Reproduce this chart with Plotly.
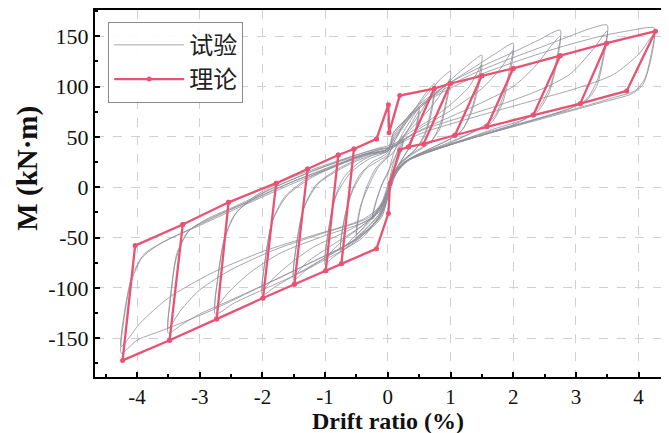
import plotly.graph_objects as go

# ---------------- Theory (理论) polyline vertices ----------------
theory_drift = [-0.18, 0.01, 0.02, 0.19, 0.74, 1.0, 1.5, 2.0, 2.75, 3.49, 4.27,
                3.81, 3.07, 2.32, 1.58, 1.07, 0.57, 0.33, 0.19, 0.035, 0.01,
                -0.18, -0.74, -0.99, -1.49, -1.99, -2.73, -3.48, -4.23,
                -4.03, -3.27, -2.54, -1.78, -1.28, -0.79, -0.54, -0.18,
                None, 3.49, 3.07, None, 2.75, 2.32, None, 2.0, 1.58, None, 1.5, 1.07,
                None, 1.0, 0.57, None, 0.74, 0.33,
                None, -3.27, -3.48, None, -2.54, -2.73, None, -1.78, -1.99,
                None, -1.28, -1.49, None, -0.79, -0.99, None, -0.54, -0.74]
theory_moment = [48, 82, 54, 91, 98, 103, 110.6, 118, 130.6, 143, 155,
                 95.6, 83, 71.6, 60, 51.6, 43, 40, 37, 4, -26,
                 -61, -76, -83, -96.5, -110, -131, -152, -172,
                 -58, -37, -15, 4, 18, 32, 38, 48,
                 None, 143, 83, None, 130.6, 71.6, None, 118, 60, None, 110.6, 51.6,
                 None, 103, 43, None, 98, 40,
                 None, -37, -152, None, -15, -131, None, 4, -110,
                 None, 18, -96.5, None, 32, -83, None, 38, -76]

# ---------------- Test (试验) hysteresis, per amplitude level ----------------
d_025 = [0, 0.08, 0.18, 0.25, 0.2, 0.1, 0.0, -0.1, -0.2, -0.25, -0.2, -0.1, 0.0,
         0.1, 0.2, 0.25, 0.18, 0.05, -0.1, -0.25, -0.18, -0.05, 0.0]
m_025 = [0, 22, 40, 48, 35, 20, 2, -16, -28, -32, -18, 2, 15,
         28, 40, 46, 30, 8, -18, -31, -12, 8, 12]

d_050 = [0.0, 0.1, 0.25, 0.4, 0.5, 0.45, 0.35, 0.2, 0.08, 0.0, -0.12, -0.3, -0.45, -0.5,
         -0.45, -0.35, -0.2, -0.05,
         0.05, 0.2, 0.35, 0.5, 0.44, 0.3, 0.15, 0.03, -0.1, -0.3, -0.5, -0.44, -0.3, -0.15, 0.0]
m_050 = [12, 35, 55, 70, 80, 60, 40, 25, 10, -8, -25, -38, -47, -50,
         -25, -2, 18, 28,
         32, 45, 60, 76, 55, 35, 20, 3, -18, -33, -47, -20, 2, 20, 30]

d_075 = [0.1, 0.3, 0.5, 0.65, 0.75, 0.7, 0.6, 0.45, 0.25, 0.1, 0.0, -0.15, -0.4, -0.6, -0.75,
         -0.7, -0.6, -0.45, -0.25, -0.05,
         0.1, 0.3, 0.5, 0.65, 0.75, 0.69, 0.58, 0.4, 0.2, 0.05, -0.08, -0.3, -0.55, -0.75,
         -0.69, -0.55, -0.35, -0.1, 0.0]
m_075 = [45, 65, 84, 97, 103, 80, 55, 38, 27, 15, -5, -28, -45, -56, -64,
         -35, -8, 12, 25, 32,
         40, 55, 72, 88, 98, 72, 50, 35, 24, 8, -15, -35, -50, -62,
         -30, -2, 18, 28, 32]

d_100 = [0.1, 0.3, 0.6, 0.85, 1.0, 0.95, 0.85, 0.7, 0.45, 0.2, 0.05, -0.1, -0.4, -0.7, -0.9, -1.0,
         -0.95, -0.85, -0.7, -0.45, -0.2, 0.0,
         0.1, 0.4, 0.7, 0.9, 1.0, 0.94, 0.83, 0.65, 0.4, 0.15, 0.03, -0.1, -0.4, -0.7, -0.9, -1.0,
         -0.94, -0.82, -0.6, -0.3, 0.0]
m_100 = [45, 68, 90, 108, 115, 92, 65, 46, 36, 24, 5, -25, -48, -62, -71, -77,
         -45, -12, 10, 25, 33, 38,
         42, 60, 80, 98, 108, 85, 58, 43, 33, 20, 2, -20, -38, -52, -64, -73,
         -40, -8, 14, 28, 36]

d_150 = [0.1, 0.4, 0.8, 1.1, 1.35, 1.5, 1.45, 1.35, 1.2, 1.0, 0.6, 0.3, 0.1, 0.0, -0.2, -0.6,
         -1.0, -1.3, -1.5, -1.45, -1.35, -1.15, -0.8, -0.4, -0.1,
         0.05, 0.3, 0.7, 1.0, 1.3, 1.5, 1.44, 1.32, 1.15, 0.8, 0.4, 0.15, 0.02, -0.15, -0.5,
         -0.9, -1.3, -1.5, -1.44, -1.32, -1.1, -0.7, -0.3, 0.0]
m_150 = [48, 72, 95, 112, 125, 131, 108, 80, 58, 48, 36, 26, 12, -10, -35, -55,
         -70, -82, -92, -55, -22, 2, 18, 30, 36,
         38, 52, 68, 82, 100, 122, 98, 72, 54, 42, 30, 18, -2, -25, -42,
         -58, -75, -88, -50, -18, 4, 20, 31, 36]

d_200 = [0.1, 0.5, 1.0, 1.4, 1.75, 2.0, 1.95, 1.85, 1.7, 1.45, 1.0, 0.5, 0.2, 0.05, -0.15, -0.6,
         -1.0, -1.5, -1.8, -2.0, -1.95, -1.85, -1.65, -1.3, -0.8, -0.4, -0.1,
         0.1, 0.5, 1.0, 1.5, 1.8, 2.0, 1.94, 1.82, 1.65, 1.3, 0.8, 0.4, 0.15, 0.02, -0.15, -0.6,
         -1.2, -1.6, -1.85, -2.0, -1.94, -1.83, -1.6, -1.2, -0.7, -0.3, 0.0]
m_200 = [50, 80, 104, 120, 134, 143, 120, 92, 70, 58, 44, 33, 22, 0, -32, -55,
         -70, -88, -99, -107, -70, -35, -10, 8, 22, 32, 38,
         40, 58, 76, 98, 118, 136, 110, 82, 64, 53, 40, 30, 18, -3, -25, -42,
         -60, -78, -92, -103, -65, -32, -8, 10, 24, 33, 36]

d_275 = [0.1, 0.5, 1.0, 1.5, 2.0, 2.4, 2.75, 2.7, 2.6, 2.42, 2.2, 1.7, 1.2, 0.7, 0.3, 0.08,
         -0.05, -0.4, -1.0, -1.5, -2.0, -2.45, -2.75, -2.71, -2.62, -2.45, -2.1, -1.6, -1.0,
         -0.5, -0.15,
         0.05, 0.5, 1.0, 1.5, 2.0, 2.35, 2.6, 2.75, 2.69, 2.58, 2.4, 2.0, 1.4, 0.8, 0.35, 0.1,
         -0.03, -0.3, -1.0, -1.7, -2.2, -2.55, -2.75, -2.7, -2.6, -2.4, -2.0, -1.4, -0.8, -0.3, 0.0]
m_275 = [52, 82, 104, 120, 134, 146, 156, 130, 102, 80, 68, 58, 47, 36, 26, 8,
         -20, -50, -72, -88, -102, -115, -126, -90, -55, -28, -8, 8, 22,
         32, 38,
         40, 56, 70, 84, 100, 120, 140, 150, 122, 95, 76, 62, 50, 38, 27, 12,
         -10, -32, -48, -65, -85, -105, -120, -85, -50, -24, -6, 11, 25, 34, 38]

d_350 = [0.1, 0.6, 1.2, 1.8, 2.4, 2.9, 3.25, 3.5, 3.45, 3.35, 3.18, 2.9, 2.4, 1.8, 1.2, 0.6,
         0.25, 0.06, -0.1, -0.5, -1.0, -1.8, -2.5, -3.0, -3.3, -3.5, -3.46, -3.38, -3.2, -2.9,
         -2.4, -1.8, -1.2, -0.6, -0.2,
         0.05, 0.6, 1.2, 1.8, 2.4, 2.9, 3.25, 3.5, 3.44, 3.33, 3.15, 2.8, 2.2, 1.5, 0.9, 0.4,
         0.12, -0.02, -0.3, -1.0, -1.8, -2.5, -3.0, -3.3, -3.5, -3.45, -3.36, -3.15, -2.8,
         -2.2, -1.5, -0.9, -0.4, 0.0]
m_350 = [55, 85, 108, 124, 138, 150, 158, 161, 135, 108, 88, 78, 68, 57, 46, 34,
         24, 5, -28, -52, -68, -92, -112, -126, -137, -145, -108, -72, -45, -32,
         -18, 0, 16, 30, 38,
         42, 58, 70, 82, 96, 112, 135, 155, 128, 100, 85, 76, 65, 53, 41, 30,
         15, -8, -30, -45, -62, -82, -102, -122, -140, -100, -65, -42, -30,
         -14, 6, 20, 32, 38]

d_425 = [0.1, 0.7, 1.4, 2.1, 2.8, 3.4, 3.9, 4.25, 4.2, 4.1, 3.95, 3.6, 3.0, 2.4, 1.8, 1.2,
         0.6, 0.25, 0.06, -0.1, -0.5, -1.2, -2.0, -2.8, -3.5, -4.0, -4.25, -4.2, -4.1, -3.92,
         -3.6, -3.1, -2.5, -1.8, -1.1, -0.5, -0.2,
         0.05, 0.6, 1.4, 2.2, 3.0, 3.6, 4.0, 4.25, 4.19, 4.07, 3.9, 3.4, 2.7, 2.0, 1.3, 0.7,
         0.3, 0.08, -0.05, -0.4, -1.2, -2.0, -2.8, -3.5, -3.95, -4.25, -4.19, -4.08, -3.88,
         -3.5, -3.0, -2.3, -1.5, -0.8, -0.3, 0.0]
m_425 = [55, 88, 110, 126, 140, 150, 156, 158, 132, 108, 96, 89, 78, 68, 57, 46,
         34, 24, 5, -30, -52, -74, -98, -122, -140, -152, -165, -128, -95, -70,
         -55, -40, -22, -2, 16, 30, 36,
         40, 55, 70, 84, 98, 112, 132, 152, 125, 102, 93, 84, 72, 60, 48, 36,
         26, 8, -15, -32, -48, -64, -85, -110, -135, -158, -120, -88, -66,
         -52, -38, -18, 4, 22, 33, 36]

levels_d = [d_025, d_050, d_075, d_100, d_150, d_200, d_275, d_350, d_425]
levels_m = [m_025, m_050, m_075, m_100, m_150, m_200, m_275, m_350, m_425]

x_ticks = [-4, -3, -2, -1, 0, 1, 2, 3, 4]
y_ticks = [-150, -100, -50, 0, 50, 100, 150]

test_drift = [v for lst in levels_d for v in lst]
test_moment = [v for lst in levels_m for v in lst]

GRAY = "#8e8e98"
PINK = "#ea5272"
SERIF = "Liberation Serif, Times New Roman, serif"
CJK = "Noto Sans CJK SC"

fig = go.Figure()
fig.add_trace(go.Scatter(
    x=test_drift, y=test_moment, mode="lines", name="试验",
    line=dict(color=GRAY, width=0.8, shape="spline", smoothing=0.7),
))
fig.add_trace(go.Scatter(
    x=theory_drift, y=theory_moment, mode="lines+markers", name="理论",
    line=dict(color=PINK, width=2.3),
    marker=dict(color=PINK, size=5),
    connectgaps=False,
))

# The page body adds an 8 px offset, so the figure is 8 px smaller and margins shifted.
fig.update_layout(
    width=661, height=425,
    margin=dict(l=87, r=0, t=2, b=56, autoexpand=False),
    paper_bgcolor="white", plot_bgcolor="white",
    showlegend=True,
    legend=dict(
        x=0.023, y=0.968, xanchor="left", yanchor="top",
        bgcolor="rgba(255,255,255,0.9)", bordercolor="#8a8a8a", borderwidth=1,
        font=dict(family=CJK, size=24, color="#222"),
        itemwidth=70, tracegroupgap=0,
    ),
    annotations=[
        dict(text="<b>Drift ratio (%)</b>", x=0, xref="x", y=-0.1199, yref="paper",
             showarrow=False, xanchor="center", yanchor="middle",
             font=dict(family=SERIF, size=24, color="#111")),
        dict(text="<b>M (kN·m)</b>", x=-0.117, xref="paper", y=0.57, yref="paper",
             showarrow=False, xanchor="center", yanchor="middle", textangle=-90,
             font=dict(family=SERIF, size=29, color="#111")),
    ],
)

fig.update_xaxes(
    range=[-4.67, 4.485], tickmode="array", tickvals=x_ticks,
    ticktext=[str(v) for v in x_ticks], automargin=False,
    showline=True, linecolor="black", linewidth=2, mirror=True,
    ticks="inside", ticklen=5, tickwidth=2, tickcolor="black",
    minor=dict(dtick=0.5, ticks="inside", ticklen=3, tickcolor="black", showgrid=False),
    showgrid=True, gridcolor="#cfcfd4", griddash="dash", gridwidth=1,
    zeroline=False,
    tickfont=dict(family=SERIF, size=21, color="#111"),
)
fig.update_yaxes(
    range=[-188.5, 176], tickmode="array", tickvals=y_ticks,
    ticktext=[str(v) for v in y_ticks], automargin=False,
    showline=True, linecolor="black", linewidth=2, mirror=False,
    ticks="inside", ticklen=5, tickwidth=2, tickcolor="black",
    minor=dict(dtick=25, ticks="inside", ticklen=3, tickcolor="black", showgrid=False),
    showgrid=True, gridcolor="#cfcfd4", griddash="dash", gridwidth=1,
    zeroline=False,
    tickfont=dict(family=SERIF, size=22, color="#111"),
)

fig.write_html("out.html")
